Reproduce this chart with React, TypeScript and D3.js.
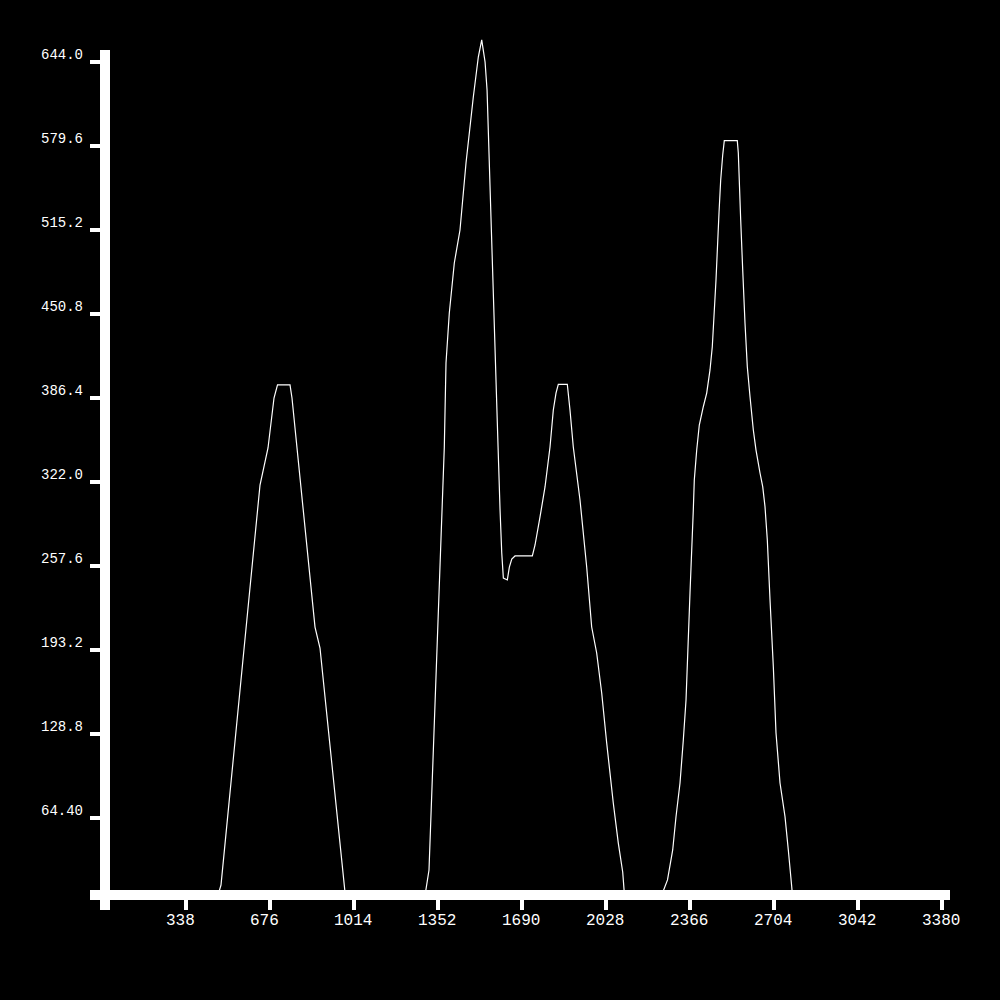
import React from "react";
import * as d3 from "d3";

const xValues = [
  0, 458.7, 478.8, 635.8, 668.0, 692.1, 706.2, 756.5, 764.5, 857.1, 877.2, 981.8,
  1295.7, 1315.8, 1377.4, 1384.2, 1397.5, 1417.6, 1440.5, 1464.7, 1494.1, 1514.2, 1527.9,
  1541.4, 1549.4, 1593.7, 1601.7, 1608.5, 1615.0, 1631.0, 1639.1, 1648.8, 1662.0, 1731.6,
  1742.5, 1762.5, 1782.6, 1802.7, 1816.0, 1826.8, 1836.1, 1872.3, 1883.1, 1896.4, 1923.4,
  1950.3, 1970.4, 1990.5, 2010.7, 2030.8, 2057.3, 2077.5, 2095.2, 2104.4,
  2241.3, 2275.5, 2296.4, 2309.7, 2325.8, 2339.1, 2350.0, 2366.0, 2379.3, 2383.3, 2393.0,
  2403.4, 2419.5, 2433.2, 2446.5, 2455.7, 2470.6, 2482.7, 2489.5, 2497.6, 2504.0, 2556.3,
  2560.4, 2570.0, 2578.1, 2587.3, 2596.6, 2607.5, 2620.8, 2631.6, 2647.7, 2658.6, 2667.8,
  2677.1, 2688.0, 2701.3, 2712.1, 2728.2, 2748.3, 2761.6, 2775.3, 2780.6, 3380,
];
const yValues = [
  0, 0, 13.0, 319.7, 348.1, 386.4, 396.4, 396.4, 386.4, 210.8, 194.7, 0,
  0, 24.5, 348.8, 413.2, 451.6, 489.9, 515.2, 566.6, 617.2, 647.8, 660.9,
  644.0, 622.5, 348.8, 300.5, 267.6, 248.4, 246.9, 256.8, 263.0, 265.3, 265.3,
  273.7, 295.2, 318.2, 348.8, 377.2, 390.2, 396.9, 396.9, 377.2, 348.8, 308.2,
  256.8, 210.8, 190.9, 160.2, 121.9, 75.9, 45.2, 23.0, 0,
  0, 16.9, 39.9, 65.4, 91.2, 124.2, 154.9, 236.9, 300.5, 323.5, 346.5,
  365.7, 379.7, 390.2, 407.9, 425.7, 476.9, 528.2, 553.5, 572.7, 583.7, 583.7,
  574.2, 522.9, 484.5, 443.9, 410.4, 387.4, 361.9, 346.5, 328.9, 318.4, 303.1,
  277.5, 231.5, 180.4, 129.6, 91.2, 65.4, 39.9, 11.7, 0, 0,
];

const yTickValues = [64.4, 128.8, 193.2, 257.6, 322.0, 386.4, 450.8, 515.2, 579.6, 644.0];
const yTickLabels = ["64.40", "128.8", "193.2", "257.6", "322.0", "386.4", "450.8", "515.2", "579.6", "644.0"];
const xTickValues = [338, 676, 1014, 1352, 1690, 2028, 2366, 2704, 3042, 3380];
const xTickLabels = ["338", "676", "1014", "1352", "1690", "2028", "2366", "2704", "3042", "3380"];

export default function App() {
  const x = d3.scaleLinear().domain([0, 3380]).range([102, 942]);
  const y = d3.scaleLinear().domain([0, 644]).range([902, 62]);
  const pts = xValues.map((v, i) => [v, yValues[i]] as [number, number]);
  const line = d3
    .line<[number, number]>()
    .x((d) => x(d[0]))
    .y((d) => y(d[1]));
  const font = "'Liberation Mono', 'DejaVu Sans Mono', monospace";
  return (
    <svg
      width={1000}
      height={1000}
      style={{ position: "absolute", left: 0, top: 0, background: "#000" }}
    >
      <rect x={0} y={0} width={1000} height={1000} fill="#000" />
      <defs>
        <clipPath id="plotclip">
          <rect x={110} y={0} width={890} height={890} />
        </clipPath>
      </defs>
      <path
        d={line(pts) || ""}
        fill="none"
        stroke="#fff"
        strokeWidth={1.2}
        clipPath="url(#plotclip)"
      />
      {/* axes */}
      <rect x={100} y={50} width={10} height={860} fill="#fff" />
      <rect x={90} y={890} width={860} height={10} fill="#fff" />
      {yTickValues.map((v, i) => (
        <g key={"y" + i}>
          <rect x={90} y={y(v) - 2} width={10} height={4} fill="#fff" />
          <text x={41} y={y(v) - 3} fill="#fff" fontFamily={font} fontSize={14}>
            {yTickLabels[i]}
          </text>
        </g>
      ))}
      {xTickValues.map((v, i) => (
        <g key={"x" + i}>
          <rect x={x(v) - 2} y={900} width={4} height={10} fill="#fff" />
          <text x={x(v) - 20} y={925} fill="#fff" fontFamily={font} fontSize={16}>
            {xTickLabels[i]}
          </text>
        </g>
      ))}
    </svg>
  );
}
